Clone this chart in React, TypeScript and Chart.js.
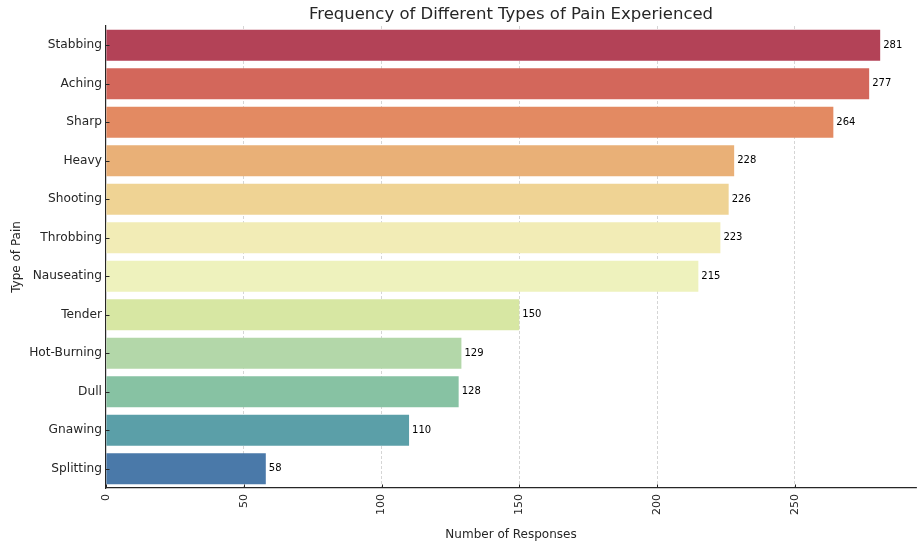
import React, { useEffect, useRef } from "react";
import { Chart, registerables } from "chart.js";

Chart.register(...registerables);

const categories = [
  "Stabbing",
  "Aching",
  "Sharp",
  "Heavy",
  "Shooting",
  "Throbbing",
  "Nauseating",
  "Tender",
  "Hot-Burning",
  "Dull",
  "Gnawing",
  "Splitting",
];
const responses = [281, 277, 264, 228, 226, 223, 215, 150, 129, 128, 110, 58];
const barColors = [
  "#b34257",
  "#d3675b",
  "#e38a62",
  "#e9b077",
  "#efd394",
  "#f2ecb6",
  "#eef2bd",
  "#d7e7a3",
  "#b3d7a9",
  "#87c2a3",
  "#5b9fa8",
  "#4a79a9",
];
const xTicks = [0, 50, 100, 150, 200, 250];
const xMax = 294;
const chartTitle = "Frequency of Different Types of Pain Experienced";
const xTitle = "Number of Responses";
const yTitle = "Type of Pain";

const FONT = "'DejaVu Sans', sans-serif";
const DARK = "#262626";

const extrasPlugin = {
  id: "extras",
  afterDatasetsDraw(chart: any) {
    const { ctx } = chart;
    const meta = chart.getDatasetMeta(0);
    ctx.save();
    ctx.font = `10px ${FONT}`;
    ctx.fillStyle = "#000";
    ctx.textAlign = "left";
    ctx.textBaseline = "middle";
    meta.data.forEach((bar: any, i: number) => {
      ctx.fillText(String(responses[i]), bar.x + 3, bar.y);
    });
    ctx.restore();
  },
  afterDraw(chart: any) {
    const { ctx, chartArea, scales } = chart;
    ctx.save();
    ctx.font = `16.5px ${FONT}`;
    ctx.fillStyle = DARK;
    ctx.textAlign = "center";
    ctx.textBaseline = "middle";
    ctx.fillText(chartTitle, (chartArea.left + chartArea.right) / 2, 14.5);
    ctx.strokeStyle = DARK;
    ctx.lineWidth = 1;
    ctx.beginPath();
    categories.forEach((_, i) => {
      const y = Math.round(scales.y.getPixelForValue(i)) + 0.5;
      ctx.moveTo(chartArea.left, y);
      ctx.lineTo(chartArea.left + 3.5, y);
    });
    xTicks.forEach((v) => {
      const x = Math.round(scales.x.getPixelForValue(v)) + 0.5;
      ctx.moveTo(x, chartArea.bottom);
      ctx.lineTo(x, chartArea.bottom - 3.5);
    });
    ctx.stroke();
    ctx.restore();
  },
};

export default function App() {
  const canvasRef = useRef<HTMLCanvasElement | null>(null);

  useEffect(() => {
    if (!canvasRef.current) return;
    const chart = new Chart(canvasRef.current, {
      type: "bar",
      data: {
        labels: categories,
        datasets: [
          {
            data: responses,
            backgroundColor: barColors,
            borderWidth: 0,
            barPercentage: 0.8,
            categoryPercentage: 1,
          },
        ],
      },
      options: {
        indexAxis: "y",
        responsive: false,
        animation: false,
        devicePixelRatio: 1,
        layout: { padding: { top: 26, right: 1, left: 0, bottom: 0 } },
        plugins: {
          legend: { display: false },
          tooltip: { enabled: false },
          title: { display: false },
        },
        scales: {
          x: {
            type: "linear",
            position: "bottom",
            min: 0,
            max: xMax,
            z: 1,
            afterBuildTicks: (scale: any) => {
              scale.ticks = xTicks.map((v) => ({ value: v }));
            },
            afterFit: (scale: any) => {
              scale.height = 58;
            },
            ticks: {
              font: { family: FONT, size: 11 },
              color: DARK,
              minRotation: 90,
              maxRotation: 90,
              padding: 6,
              autoSkip: false,
            },
            grid: {
              display: true,
              drawTicks: false,
              color: (c: any) =>
                c.tick && c.tick.value === 0 ? "rgba(0,0,0,0)" : "rgba(185,185,185,0.75)",
              lineWidth: 0.8,
            },
            border: { display: true, color: DARK, width: 1.2, dash: [3, 2] },
            title: {
              display: true,
              text: xTitle,
              font: { family: FONT, size: 12 },
              color: DARK,
              padding: { top: 0, bottom: 4 },
            },
          },
          y: {
            type: "category",
            position: "left",
            afterFit: (scale: any) => {
              scale.width = 106;
            },
            ticks: {
              font: { family: FONT, size: 12.2 },
              color: DARK,
              padding: 4,
              autoSkip: false,
            },
            grid: { display: false, drawTicks: false },
            border: { display: true, color: DARK, width: 1.2 },
            title: {
              display: true,
              text: yTitle,
              font: { family: FONT, size: 12 },
              color: DARK,
              padding: { top: 10, bottom: 0 },
            },
          },
        },
      },
      plugins: [extrasPlugin],
    } as any);
    return () => chart.destroy();
  }, []);

  return (
    <div style={{ position: "absolute", left: 0, top: 0, width: 917, height: 546, background: "#fff" }}>
      <canvas ref={canvasRef} width={917} height={546} style={{ width: 917, height: 546 }} />
    </div>
  );
}
